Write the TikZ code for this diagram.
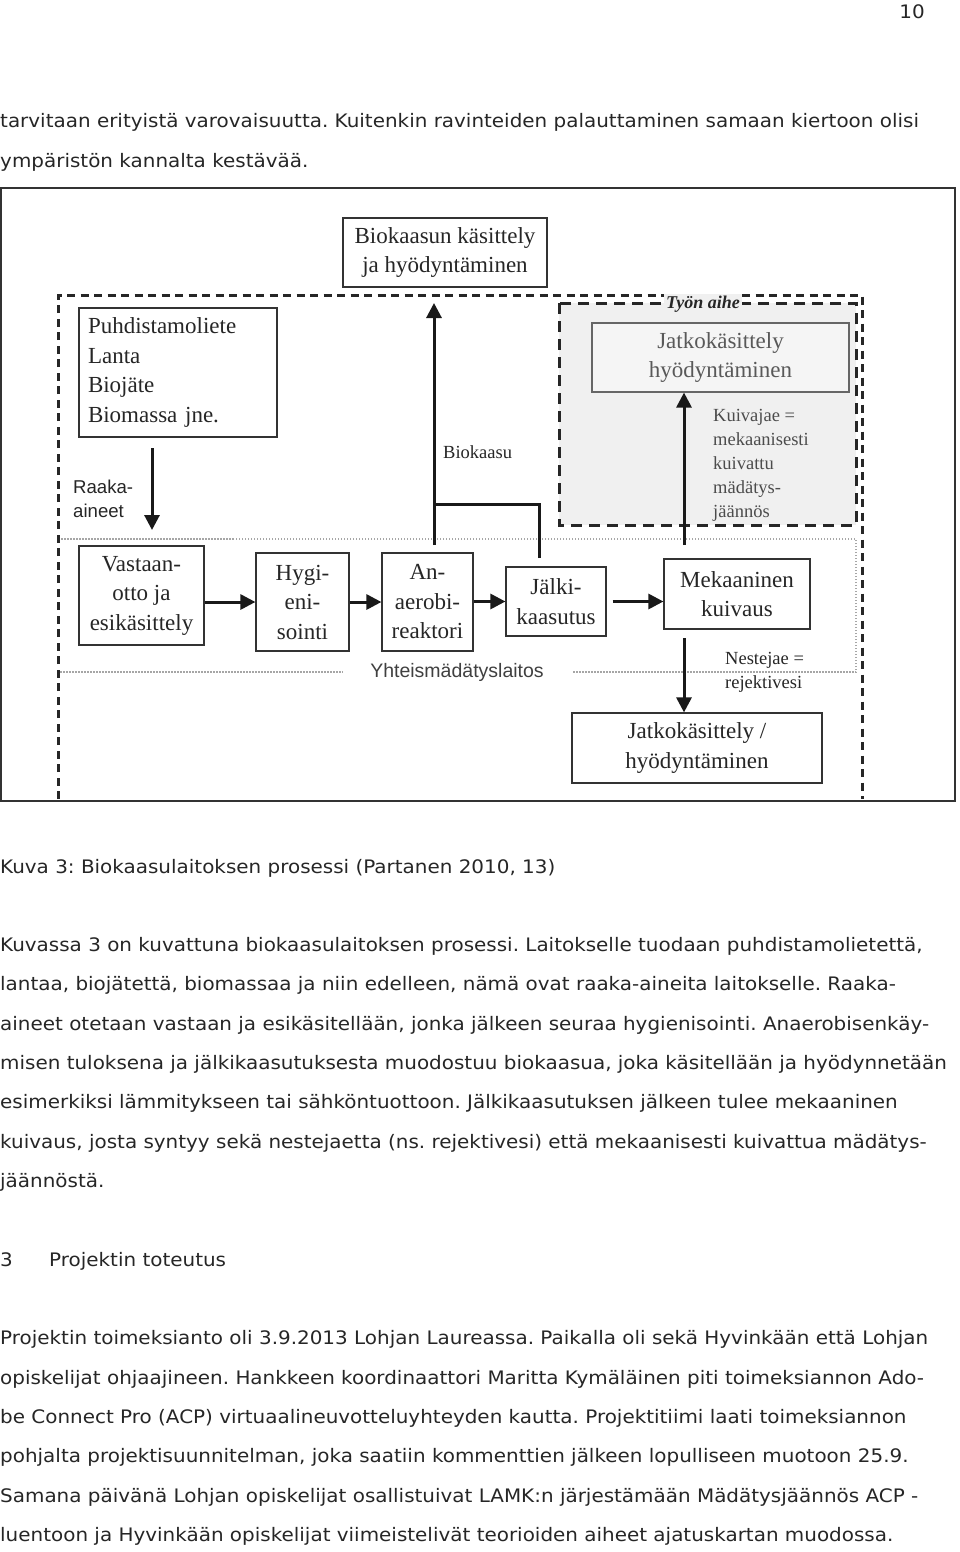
\documentclass[tikz,border=0pt]{standalone}
\usepackage{fontspec}
\setmainfont{DejaVu Sans}[FakeStretch=1.072]
\newfontfamily\serifdiag{Liberation Serif}
\newfontfamily\sansdiag{Liberation Sans}
\usetikzlibrary{arrows.meta}
\frenchspacing

\begin{document}
\begin{tikzpicture}[x=1pt, y=-1pt,
    body/.style={anchor=base west, inner sep=0pt, text=black!85, font=\fontsize{18.6}{20}\selectfont},
    stagebox/.style={draw=black!80, line width=1.2pt, fill=white, align=center, inner sep=0pt, text=black!85, font=\serifdiag\fontsize{23}{29.5}\selectfont},
    note/.style={anchor=west, align=left, inner sep=0pt, text=black!85, font=\serifdiag\fontsize{18.5}{24}\selectfont},
    flow/.style={line width=3pt, black!90, -{Triangle[length=15pt,width=15pt]}},
    pipe/.style={line width=3pt, black!90},
    outerdash/.style={line width=3pt, black!85, dash pattern=on 8pt off 5.5pt},
    innerdash/.style={line width=3pt, black!85, dash pattern=on 11pt off 7pt},
    plantline/.style={line width=1.5pt, gray!70, dash pattern=on 1.5pt off 1.5pt}]

    \useasboundingbox (0,0) rectangle (960,1552);

    % page text above the figure
    \node[body, anchor=base east] (pageno) at (925,19) {10};
    \node[body] (top1) at (0,128) {tarvitaan erityistä varovaisuutta. Kuitenkin ravinteiden palauttaminen samaan kiertoon olisi};
    \node[body] (top2) at (0,167) {ympäristön kannalta kestävää.};

    % figure frame and areas
    \draw[line width=1.8pt, black!80] (1,188) rectangle (955,801);
    \draw[innerdash, fill=gray!12] (559,303) rectangle (856,525);
    \draw[outerdash] (58,799) -- (58,295) -- (862,295) -- (862,799);
    \draw[plantline] (573,672) -- (856,672) -- (856,539) -- (60,539);
    \draw[plantline] (60,672) -- (343,672);

    % process boxes
    \node[stagebox, align=left, text width=180pt, inner xsep=9pt, minimum height=129pt] (src) at (178,372.5) {Puhdistamoliete\\Lanta\\Biojäte\\Biomassa jne.};
    \node[stagebox, minimum width=204pt, minimum height=69pt] (gasuse) at (445,252.5) {Biokaasun käsittely\\ja hyödyntäminen};
    \node[stagebox, draw=black!60, fill=gray!8, text=black!65, minimum width=257pt, minimum height=69pt] (reuse) at (720.5,357.5) {Jatkokäsittely\\hyödyntäminen};
    \node[stagebox, minimum width=125pt, minimum height=99pt] (recv) at (141.5,595.5) {Vastaan-\\otto ja\\esikäsittely};
    \node[stagebox, minimum width=93pt, minimum height=98pt] (hyg) at (302.5,602) {Hygi-\\eni-\\sointi};
    \node[stagebox, minimum width=91pt, minimum height=98pt] (reactor) at (427.5,602) {An-\\aerobi-\\reaktori};
    \node[stagebox, minimum width=100pt, minimum height=69pt] (post) at (556,601.5) {Jälki-\\kaasutus};
    \node[stagebox, minimum width=146pt, minimum height=70pt] (dryer) at (737,594) {Mekaaninen\\kuivaus};
    \node[stagebox, minimum width=250pt, minimum height=70pt] (further) at (697,748) {Jatkokäsittely /\\hyödyntäminen};

    % labels
    \node[fill=gray!12, inner sep=2pt, text=black!85, font=\serifdiag\bfseries\itshape\fontsize{18}{20}\selectfont] (topic) at (703,304) {Työn aihe};
    \node[fill=white, inner xsep=4pt, inner ysep=1pt, text=black!75, font=\sansdiag\fontsize{19.5}{22}\selectfont] (plant) at (457,672) {Yhteismädätyslaitos};
    \node[note, font=\sansdiag\fontsize{18.6}{24}\selectfont] (rawlbl) at (73,499) {Raaka-\\aineet};
    \node[note] (gaslbl) at (443,452) {Biokaasu};
    \node[note, text=black!70] (drylbl) at (713,465) {Kuivajae =\\mekaanisesti\\kuivattu\\mädätys-\\jäännös};
    \node[note] (wetlbl) at (725,672.5) {Nestejae =\\rejektivesi};

    % connectors
    \coordinate (rawin) at (152,448);
    \coordinate (rawend) at (152,530);
    \coordinate (gasfrom) at (434,545);
    \coordinate (gasjoin) at (434,504);
    \coordinate (gasto) at (434,303);
    \coordinate (postgas) at (539,558);
    \coordinate (dryout) at (684,545);
    \coordinate (wetout) at (684,638);

    \draw[flow] (rawin) -- (rawend);
    \draw[flow] (recv.east |- hyg.west) -- (hyg.west);
    \draw[flow] (hyg.east) -- (reactor.west);
    \draw[flow] (reactor.east |- post.west) -- (post.west);
    \draw[flow] ([xshift=6pt]post.east) -- (dryer.west |- post.east);
    \draw[pipe] (postgas) |- (gasjoin);
    \draw[flow] (gasfrom) -- (gasto);
    \draw[flow] (dryout) -- (dryout |- reuse.south);
    \draw[flow] (wetout) -- (wetout |- further.north);

    % page text below the figure
    \node[body] (caption) at (0,873) {Kuva 3: Biokaasulaitoksen prosessi (Partanen 2010, 13)};
    \node[body] (par1) at (0,951) {Kuvassa 3 on kuvattuna biokaasulaitoksen prosessi. Laitokselle tuodaan puhdistamolietettä,};
    \node[body] (par2) at (0,990) {lantaa, biojätettä, biomassaa ja niin edelleen, nämä ovat raaka-aineita laitokselle. Raaka-};
    \node[body] (par3) at (0,1030) {aineet otetaan vastaan ja esikäsitellään, jonka jälkeen seuraa hygienisointi. Anaerobisenkäy-};
    \node[body] (par4) at (0,1069) {misen tuloksena ja jälkikaasutuksesta muodostuu biokaasua, joka käsitellään ja hyödynnetään};
    \node[body] (par5) at (0,1108) {esimerkiksi lämmitykseen tai sähköntuottoon. Jälkikaasutuksen jälkeen tulee mekaaninen};
    \node[body] (par6) at (0,1148) {kuivaus, josta syntyy sekä nestejaetta (ns. rejektivesi) että mekaanisesti kuivattua mädätys-};
    \node[body] (par7) at (0,1187) {jäännöstä.};
    \node[body] (secno) at (0,1266) {3};
    \node[body] (sectitle) at (49,1266) {Projektin toteutus};
    \node[body] (proj1) at (0,1344) {Projektin toimeksianto oli 3.9.2013 Lohjan Laureassa. Paikalla oli sekä Hyvinkään että Lohjan};
    \node[body] (proj2) at (0,1384) {opiskelijat ohjaajineen. Hankkeen koordinaattori Maritta Kymäläinen piti toimeksiannon Ado-};
    \node[body] (proj3) at (0,1423) {be Connect Pro (ACP) virtuaalineuvotteluyhteyden kautta. Projektitiimi laati toimeksiannon};
    \node[body] (proj4) at (0,1462) {pohjalta projektisuunnitelman, joka saatiin kommenttien jälkeen lopulliseen muotoon 25.9.};
    \node[body] (proj5) at (0,1502) {Samana päivänä Lohjan opiskelijat osallistuivat LAMK:n järjestämään Mädätysjäännös ACP -};
    \node[body] (proj6) at (0,1541) {luentoon ja Hyvinkään opiskelijat viimeistelivät teorioiden aiheet ajatuskartan muodossa.};
\end{tikzpicture}
\end{document}
